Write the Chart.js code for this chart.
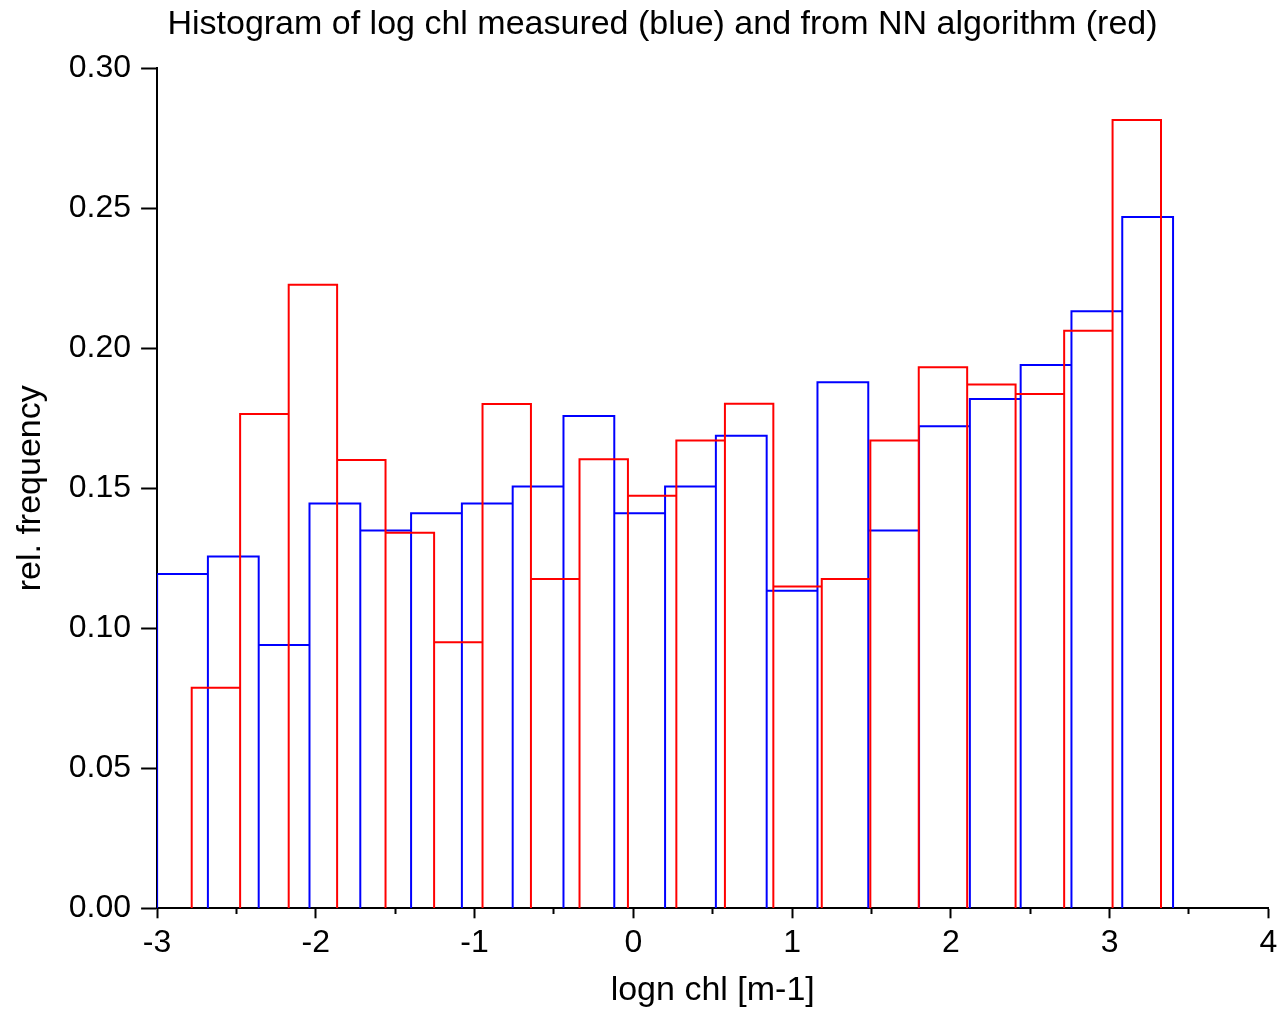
<!DOCTYPE html>
<html>
<head>
<meta charset="utf-8">
<title>Histogram of log chl</title>
<script src="https://cdn.jsdelivr.net/npm/chart.js@4.4.1/dist/chart.umd.min.js"></script>
<style>
  html, body { margin: 0; padding: 0; background: #fff; }
  canvas { display: block; }
</style>
</head>
<body>
<canvas id="histChart" width="1278" height="1013"></canvas>
<script>
// Measured log chl: bin edges and relative frequency per bin (blue)
var measuredEdges = [-3.00, -2.68, -2.36, -2.04, -1.72, -1.40, -1.08, -0.76, -0.44, -0.12, 0.20,
                     0.52, 0.84, 1.16, 1.48, 1.80, 2.12, 2.44, 2.76, 3.08, 3.40];
var measuredFreq = [0.1194, 0.1256, 0.0940, 0.1446, 0.1349, 0.1411, 0.1446, 0.1506, 0.1758, 0.1411,
                    0.1506, 0.1688, 0.1134, 0.1879, 0.1349, 0.1722, 0.1819, 0.1940, 0.2132, 0.2469];

// NN algorithm log chl: bin edges and relative frequency per bin (red)
var nnEdges = [-2.782, -2.477, -2.171, -1.866, -1.561, -1.255, -0.950, -0.645, -0.339, -0.034, 0.271,
               0.577, 0.882, 1.187, 1.493, 1.798, 2.103, 2.408, 2.714, 3.019, 3.324];
var nnFreq = [0.0788, 0.1765, 0.2227, 0.1601, 0.1341, 0.0950, 0.1801, 0.1176, 0.1604, 0.1473,
              0.1671, 0.1802, 0.1149, 0.1176, 0.1671, 0.1932, 0.1871, 0.1837, 0.2063, 0.2815];

// Axis ticks
var xTicks = [-3, -2, -1, 0, 1, 2, 3, 4];
var xMinorTicks = [-2.5, -1.5, -0.5, 0.5, 1.5, 2.5, 3.5];
var yTicks = [0, 0.05, 0.10, 0.15, 0.20, 0.25, 0.30];

var FONT = '"Liberation Sans", Arial, Helvetica, sans-serif';

// Turn edges + heights into a histogram outline: each bin goes up from
// the baseline, across the top and back down again
function outline(edges, freq) {
  var pts = [];
  for (var i = 0; i < freq.length; i++) {
    pts.push({ x: edges[i], y: 0 });
    pts.push({ x: edges[i], y: freq[i] });
    pts.push({ x: edges[i + 1], y: freq[i] });
    pts.push({ x: edges[i + 1], y: 0 });
  }
  return pts;
}

function setTicks(values) {
  return function (scale) {
    scale.ticks = values.map(function (v) { return { value: v }; });
  };
}

var ctx = document.getElementById('histChart');
var histChart = new Chart(ctx, {
  type: 'scatter',
  data: {
    datasets: [{
      label: 'measured',
      data: outline(measuredEdges, measuredFreq),
      showLine: true,
      borderColor: '#0000ff',
      borderWidth: 2,
      pointRadius: 0,
      fill: false,
      order: 1
    }, {
      label: 'NN algorithm',
      data: outline(nnEdges, nnFreq),
      showLine: true,
      borderColor: '#ff0000',
      borderWidth: 2,
      pointRadius: 0,
      fill: false,
      order: 0
    }]
  },
  options: {
    responsive: false,
    animation: false,
    devicePixelRatio: 1,
    layout: { padding: { left: 47, right: 0, top: 0, bottom: 0 } },
    plugins: {
      legend: { display: false },
      tooltip: { enabled: false },
      title: {
        display: true,
        text: 'Histogram of log chl measured (blue) and from NN algorithm (red)',
        color: '#000',
        font: { family: FONT, size: 34, weight: 'normal' },
        padding: { top: 4, bottom: 23.5 }
      }
    },
    scales: {
      x: {
        type: 'linear',
        position: 'bottom',
        min: -3,
        max: 4,
        afterBuildTicks: setTicks(xTicks),
        afterFit: function (s) {
          s.height = 104.7;
          s.paddingLeft = 0;
          s.paddingRight = 9.7;
        },
        ticks: {
          color: '#000',
          font: { family: FONT, size: 32 },
          padding: 6,
          maxRotation: 0,
          autoSkip: false,
          callback: function (v) { return String(v); }
        },
        grid: { drawOnChartArea: false, drawTicks: true, tickLength: 10, tickWidth: 2, tickColor: '#000' },
        border: { display: true, color: '#000', width: 2 },
        title: {
          display: true,
          text: 'logn chl [m-1]',
          color: '#000',
          font: { family: FONT, size: 34 },
          padding: { top: 0, bottom: 2 }
        }
      },
      // half-unit minor tick marks along the bottom axis
      xm: {
        type: 'linear',
        position: { y: 0 },
        min: -3,
        max: 4,
        afterBuildTicks: setTicks(xMinorTicks),
        ticks: { display: false },
        grid: { drawOnChartArea: false, drawTicks: true, tickLength: 6, tickWidth: 2, tickColor: '#000' },
        border: { display: false }
      },
      y: {
        type: 'linear',
        position: 'left',
        min: 0,
        max: 0.3,
        afterBuildTicks: setTicks(yTicks),
        afterFit: function (s) { s.width = 110.1; },
        ticks: {
          color: '#000',
          font: { family: FONT, size: 32 },
          padding: 10,
          autoSkip: false,
          callback: function (v) { return v.toFixed(2); }
        },
        grid: { drawOnChartArea: false, drawTicks: true, tickLength: 16, tickWidth: 2, tickColor: '#000' },
        border: { display: true, color: '#000', width: 2 },
        title: {
          display: true,
          text: 'rel. frequency',
          color: '#000',
          font: { family: FONT, size: 34 },
          padding: { top: -36.8, bottom: 0 }
        }
      }
    }
  }
});
</script>
</body>
</html>
